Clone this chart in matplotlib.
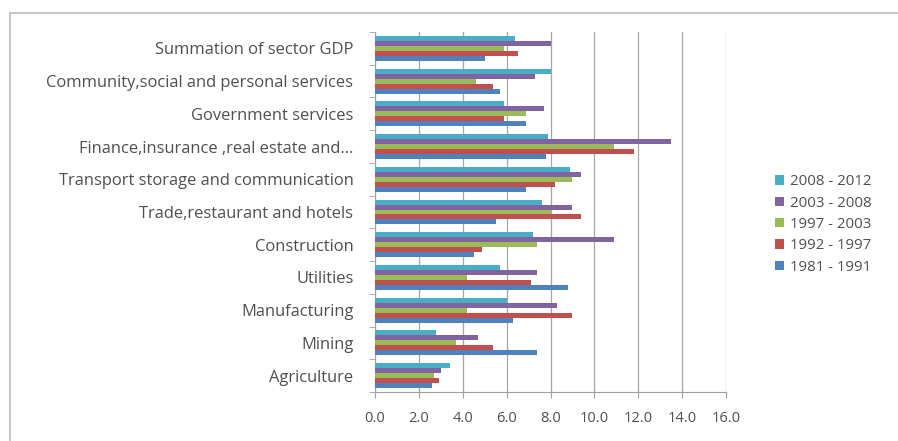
import numpy as np
import matplotlib.pyplot as plt
from matplotlib.patches import Rectangle

# Categories listed bottom to top
categories = ['Agriculture', 'Mining', 'Manufacturing', 'Utilities', 'Construction',
              'Trade,restaurant and hotels', 'Transport storage and communication',
              'Finance,insurance ,real estate and...', 'Government services',
              'Community,social and personal services', 'Summation of sector GDP']

# Growth values per period (same order as categories)
p1981_1991 = [2.6, 7.4, 6.3, 8.8, 4.5, 5.5, 6.9, 7.8, 6.9, 5.7, 5.0]
p1992_1997 = [2.9, 5.4, 9.0, 7.1, 4.9, 9.4, 8.2, 11.8, 5.9, 5.4, 6.5]
p1997_2003 = [2.7, 3.7, 4.2, 4.2, 7.4, 8.0, 9.0, 10.9, 6.9, 4.6, 5.9]
p2003_2008 = [3.0, 4.7, 8.3, 7.4, 10.9, 9.0, 9.4, 13.5, 7.7, 7.3, 8.0]
p2008_2012 = [3.4, 2.8, 6.0, 5.7, 7.2, 7.6, 8.9, 7.9, 5.9, 8.0, 6.4]

series = [('1981 - 1991', p1981_1991, '#4F81BD'),
          ('1992 - 1997', p1992_1997, '#C0504D'),
          ('1997 - 2003', p1997_2003, '#9BBB59'),
          ('2003 - 2008', p2003_2008, '#8064A2'),
          ('2008 - 2012', p2008_2012, '#4BACC6')]

plt.rcParams['font.family'] = ['Open Sans', 'DejaVu Sans']
TEXT = '#505050'

W, H = 898, 441
fig = plt.figure(figsize=(W / 100, H / 100), dpi=100)
ax = fig.add_axes([375 / W, 1 - 392 / H, (726 - 375) / W, (392 - 32) / H])

# Outer chart border
fig.patches.append(Rectangle((10 / W, -0.05), 1.2, 1 - 13 / H + 0.05, transform=fig.transFigure,
                             fill=False, edgecolor='#C8C8C8', linewidth=1.5))

y = np.arange(len(categories))
bar_h = 0.152
for i, (label, vals, color) in enumerate(series):
    ax.barh(y - 2 * bar_h + i * bar_h, vals, height=bar_h, color=color, label=label, zorder=3)

ax.set_xlim(0, 16)
ax.set_ylim(-0.5, len(categories) - 0.5)
ax.set_xticks(np.arange(0, 17, 2))
ax.set_xticklabels([f'{v:.1f}' for v in np.arange(0, 17, 2)])
ax.set_yticks(y)
ax.set_yticklabels(categories)
ax.set_yticks(np.arange(-0.5, len(categories), 1), minor=True)
ax.tick_params(axis='y', which='major', length=0, pad=15.5, labelsize=11.9, labelcolor=TEXT)
ax.tick_params(axis='y', which='minor', length=4, color='#A0A0A0')
ax.tick_params(axis='x', length=4, color='#A0A0A0', labelsize=10.5, labelcolor=TEXT, pad=10)
ax.grid(axis='x', color='#A6A6A6', linewidth=0.9, zorder=0)
for side in ['top', 'right']:
    ax.spines[side].set_visible(False)
for side in ['left', 'bottom']:
    ax.spines[side].set_color('#A0A0A0')

handles, labels = ax.get_legend_handles_labels()
ax.legend(handles[::-1], labels[::-1], loc='center left', bbox_to_anchor=(761 / W, 1 - 224.5 / H),
          bbox_transform=fig.transFigure, frameon=False, fontsize=10.8, labelcolor=TEXT,
          handlelength=0.6, handleheight=0.6, handletextpad=0.4, labelspacing=0.42)

fig.savefig('out.png', dpi=100)
